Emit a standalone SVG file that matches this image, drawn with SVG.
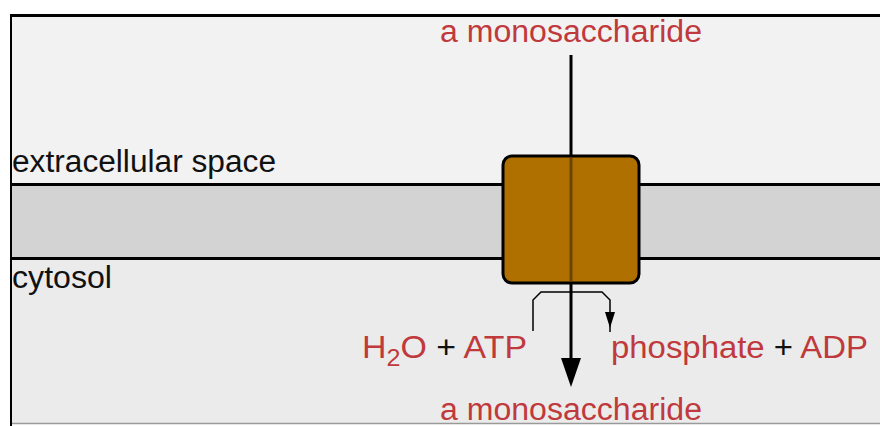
<svg xmlns="http://www.w3.org/2000/svg" width="880" height="426" viewBox="0 0 880 426">
<defs>
<style>
.t{font-family:"Liberation Sans",Arial,sans-serif;font-size:31px}
.red{fill:#c0393c}
.blk{fill:#111}
.mem{stroke:#000;stroke-width:3;fill:none}
</style>
</defs>
<rect x="0" y="0" width="880" height="426" fill="#ffffff"/>
<g id="compartments">
<rect x="11" y="15" width="869" height="170" fill="#f2f2f2"/>
<rect x="11" y="185" width="869" height="73" fill="#d3d3d3"/>
<rect x="11" y="258" width="869" height="166" fill="#ebebeb"/>
<line x1="11" y1="423.5" x2="880" y2="423.5" stroke="#9a9a9a" stroke-width="1.5"/>
<line x1="10" y1="15.5" x2="880" y2="15.5" stroke="#000" stroke-width="3"/>
<line x1="11" y1="14" x2="11" y2="426" stroke="#000" stroke-width="2"/>
<line class="mem" x1="11" y1="184.5" x2="880" y2="184.5"/>
<line class="mem" x1="11" y1="258.5" x2="880" y2="258.5"/>
</g>
<g id="labels">
<text class="t blk" x="12" y="172" textLength="264" lengthAdjust="spacingAndGlyphs">extracellular space</text>
<text class="t blk" x="12" y="288" textLength="100" lengthAdjust="spacingAndGlyphs">cytosol</text>
</g>
<g id="connectors">
<line x1="571" y1="55" x2="571" y2="362" stroke="#000" stroke-width="3"/>
<path d="M561,358 L581,358 L571,387 Z" fill="#000"/>
<path d="M533,331 L533,300 L541,292 L602,292 L610,300 L610,332" fill="none" stroke="#000" stroke-width="1.5"/>
<path d="M605,312 L615,312 L610,328 Z" fill="#000"/>
</g>
<g id="transporter">
<rect x="503" y="156" width="136" height="127" rx="9" ry="9" fill="#af7000" stroke="#000" stroke-width="3"/>
<line x1="571" y1="158" x2="571" y2="281" stroke="#6b4500" stroke-width="3"/>
</g>
<g id="substrates">
<text class="t red" x="440" y="42" textLength="262" lengthAdjust="spacingAndGlyphs">a monosaccharide</text>
<text class="t red" x="440" y="420" textLength="262" lengthAdjust="spacingAndGlyphs">a monosaccharide</text>
<text class="t" x="362" y="358" textLength="165" lengthAdjust="spacingAndGlyphs"><tspan class="red">H</tspan><tspan class="red" font-size="23" dy="8">2</tspan><tspan class="red" dy="-8">O</tspan><tspan class="blk"> + </tspan><tspan class="red">ATP</tspan></text>
<text class="t" x="611" y="358" textLength="257" lengthAdjust="spacingAndGlyphs"><tspan class="red">phosphate</tspan><tspan class="blk"> + </tspan><tspan class="red">ADP</tspan></text>
</g>
</svg>
